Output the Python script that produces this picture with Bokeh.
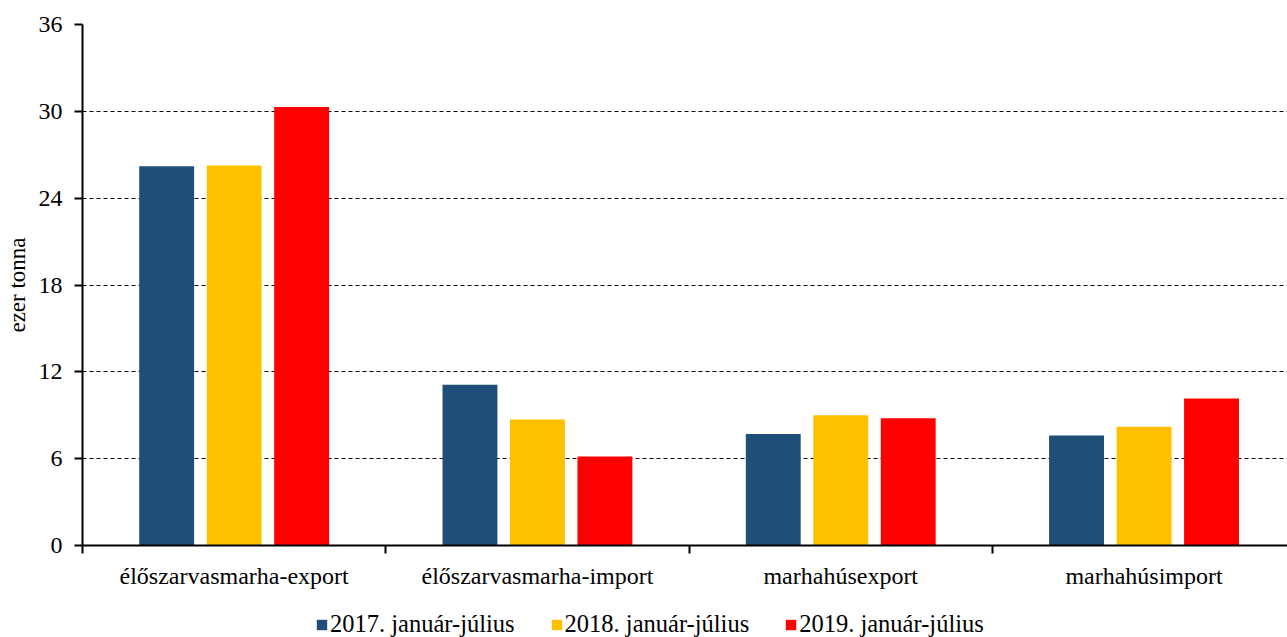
from bokeh.plotting import figure
from bokeh.layouts import column
from bokeh.models import Range1d, FixedTicker, Legend, LegendItem, ColumnDataSource
from bokeh.embed import file_html
from bokeh.resources import INLINE

categories = ["élőszarvasmarha-export", "élőszarvasmarha-import", "marhahúsexport", "marhahúsimport"]
series_names = ["2017. január-július", "2018. január-július", "2019. január-július"]
values_2017 = [26.2, 11.1, 7.7, 7.6]
values_2018 = [26.25, 8.7, 9.0, 8.2]
values_2019 = [30.3, 6.15, 8.8, 10.15]
colors = ["#1F4E79", "#FFC000", "#FF0000"]
y_ticks = [0, 6, 12, 18, 24, 30, 36]

FONT = "Liberation Serif"

p = figure(width=1287, height=592, output_backend="svg", toolbar_location=None,
           x_range=Range1d(0, 3.973), y_range=Range1d(0, 36),
           min_border_left=82, min_border_right=0, min_border_top=24,
           min_border_bottom=47)
p.outline_line_color = None
p.background_fill_color = "white"

series = [values_2017, values_2018, values_2019]
offsets = [-0.2225, 0.0, 0.2225]
sources = []
for vals, col, off in zip(series, colors, offsets):
    src = ColumnDataSource(dict(x=[i + 0.5 + off for i in range(len(categories))], top=vals))
    sources.append(src)
    p.vbar(x="x", top="top", width=0.181, bottom=0, source=src,
           fill_color=col, line_color=None)

# x axis: labels at centres, minor ticks at category boundaries
xt = FixedTicker(ticks=[i + 0.5 for i in range(len(categories))],
                 minor_ticks=list(range(len(categories) + 1)))
p.xaxis.ticker = xt
p.xaxis.major_label_overrides = {i + 0.5: c for i, c in enumerate(categories)}
p.xaxis.major_tick_out = 0
p.xaxis.major_tick_in = 0
p.xaxis.minor_tick_out = 8
p.xaxis.minor_tick_in = 0
p.xaxis.minor_tick_line_width = 2
p.xaxis.minor_tick_line_color = "black"
p.xaxis.axis_line_width = 2
p.xaxis.axis_line_color = "black"
p.xaxis.major_label_text_font = FONT
p.xaxis.major_label_text_font_size = "24px"
p.xaxis.major_label_text_color = "black"
p.xaxis.major_label_standoff = 9

p.yaxis.ticker = FixedTicker(ticks=y_ticks, minor_ticks=[])
p.yaxis.major_tick_out = 8
p.yaxis.major_tick_in = 0
p.yaxis.major_tick_line_width = 2
p.yaxis.major_tick_line_color = "black"
p.yaxis.axis_line_width = 2
p.yaxis.axis_line_color = "black"
p.yaxis.major_label_text_font = FONT
p.yaxis.major_label_text_font_size = "24px"
p.yaxis.major_label_text_color = "black"
p.yaxis.major_label_standoff = 12
p.yaxis.axis_label = "ezer tonna"
p.yaxis.axis_label_text_font = FONT
p.yaxis.axis_label_text_font_size = "23px"
p.yaxis.axis_label_text_font_style = "normal"
p.yaxis.axis_label_text_color = "black"
p.yaxis.axis_label_standoff = 6

p.xgrid.grid_line_color = None
p.ygrid.ticker = FixedTicker(ticks=y_ticks[1:])
p.ygrid.grid_line_color = "black"
p.ygrid.grid_line_width = 1
p.ygrid.grid_line_dash = "4 3"

# legend strip below the chart (its renderers are hidden; only the legend shows)
lf = figure(width=1287, height=45, output_backend="svg", toolbar_location=None,
            x_range=Range1d(0, 1), y_range=Range1d(0, 1),
            x_axis_type=None, y_axis_type=None,
            min_border_left=0, min_border_right=0, min_border_top=0, min_border_bottom=0)
lf.outline_line_color = None
lf.xgrid.visible = False
lf.ygrid.visible = False
proxies = []
for src, c in zip(sources, colors):
    r = lf.vbar(x="x", top="top", width=0.181, bottom=0, source=src,
                fill_color=c, line_color=None)
    r.visible = False
    proxies.append(r)
legend = Legend(items=[LegendItem(label=n, renderers=[r]) for n, r in zip(series_names, proxies)],
                orientation="horizontal", location=(233, -1))
legend.label_text_font = FONT
legend.label_text_font_size = "24.5px"
legend.label_text_color = "black"
legend.glyph_width = 13
legend.glyph_height = 13
legend.label_standoff = 2
legend.spacing = 35
legend.border_line_color = None
legend.background_fill_alpha = 0
legend.inactive_fill_alpha = 0
legend.padding = 0
legend.margin = 0
lf.add_layout(legend, "center")

layout = column(p, lf, spacing=0)
open("out.html", "w").write(file_html(layout, INLINE))
